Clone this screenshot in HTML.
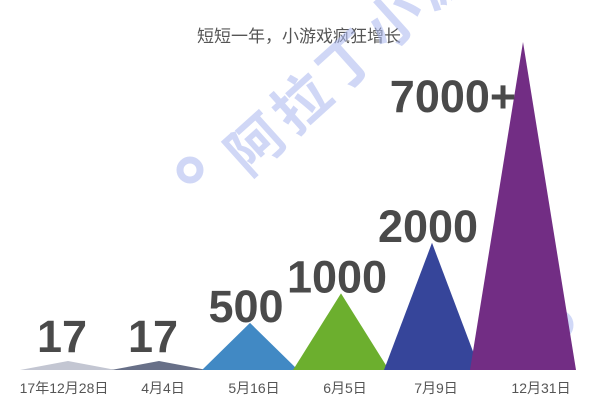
<!DOCTYPE html>
<html><head><meta charset="utf-8"><style>
html,body{margin:0;padding:0;background:#fff;width:604px;height:409px;overflow:hidden}
svg{display:block}
text{font-family:"Liberation Sans","Noto Sans CJK SC",sans-serif}
</style></head><body>
<svg id="chart" width="604" height="409">
<text x="299" y="42" text-anchor="middle" font-size="17" fill="#555">短短一年，小游戏疯狂增长</text>
<g opacity="0.55">
<text x="0" y="0" transform="translate(248,178) rotate(-42)" font-size="56" fill="#aab8f0" font-weight="bold" letter-spacing="6">阿拉丁小游戏</text>
<circle cx="190" cy="170" r="10" fill="none" stroke="#aab8f0" stroke-width="7"/>
<circle cx="558" cy="325" r="12" fill="none" stroke="#aab8f0" stroke-width="7"/>
</g>
<g id="marks"></g>
</svg>
<script>
const categories = ["17年12月28日","4月4日","5月16日","6月5日","7月9日","12月31日"];
const values = [17,17,500,1000,2000,7000];
const valueLabels = ["17","17","500","1000","2000","7000+"];
const colors = ["#c3c6d2","#687088","#4189c4","#6caf2e","#36459a","#722d84"];
const baseY = 370;
function xScale(i){return 68 + i*91;}
function yScale(v){return baseY - (6 + 322*Math.pow(v/7000,0.78));}
const g = document.getElementById('marks');
const ns = "http://www.w3.org/2000/svg";
categories.forEach((c,i)=>{
  const cx = xScale(i), top = yScale(values[i]);
  const hw = i===5 ? 53 : 48;
  const p = document.createElementNS(ns,'polygon');
  p.setAttribute('points', `${cx-hw},${baseY} ${cx},${top} ${cx+hw},${baseY}`);
  p.setAttribute('fill', colors[i]);
  
  
  g.appendChild(p);
  const t = document.createElementNS(ns,'text');
  const lx = i===5 ? cx-70 : (i<2 ? cx-6 : cx-4);
  t.setAttribute('x', lx);
  t.setAttribute('y', i===5 ? 112 : (i<2 ? top-9 : top-1));
  t.setAttribute('text-anchor','middle');
  t.setAttribute('font-size','45');
  t.setAttribute('font-weight','bold');
  t.setAttribute('fill','#4a4a4a');
  t.textContent = valueLabels[i];
  
  
  g.appendChild(t);
  const xl = document.createElementNS(ns,'text');
  xl.setAttribute('x', i===0 ? cx-4 : (i===5 ? cx+18 : cx+4));
  xl.setAttribute('y', 393);
  xl.setAttribute('text-anchor','middle');
  xl.setAttribute('font-size','14');
  xl.setAttribute('fill','#555');
  xl.textContent = c;
  
  
  g.appendChild(xl);
});
</script>
</body></html>
